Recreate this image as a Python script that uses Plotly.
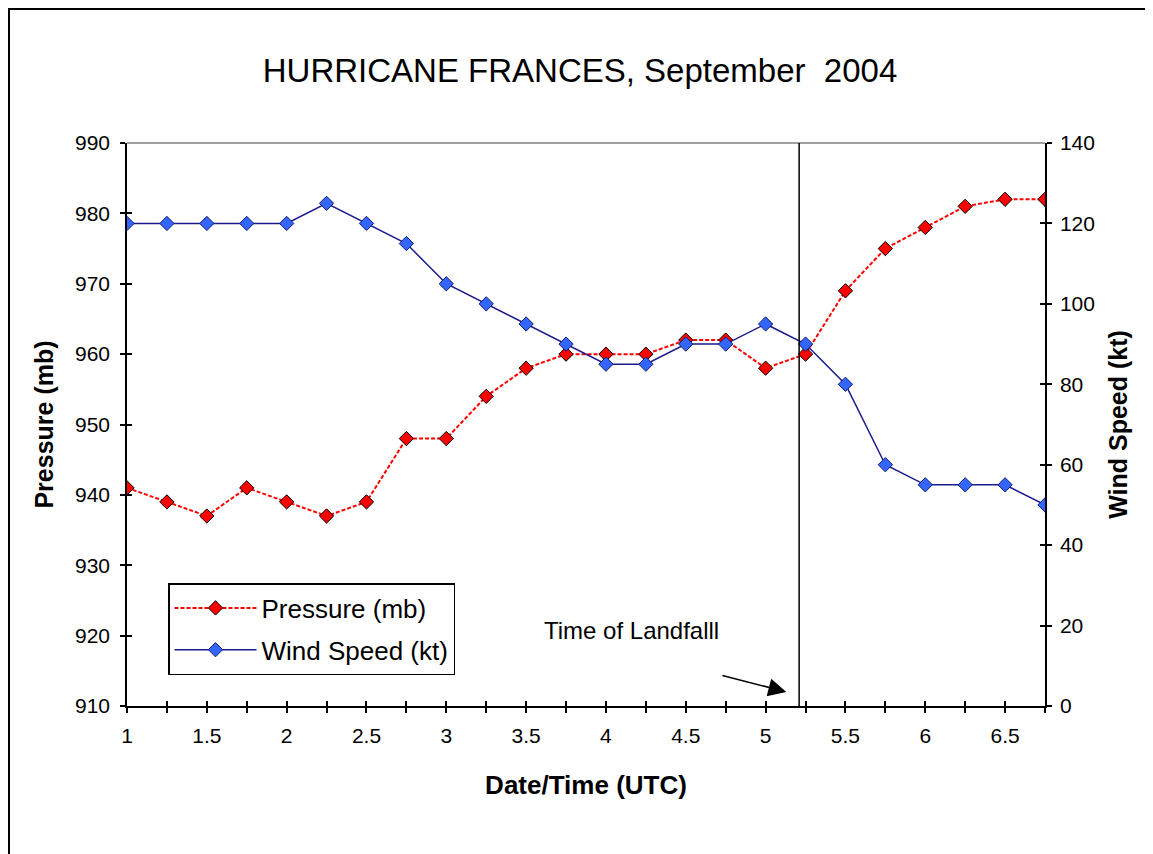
import plotly.graph_objects as go

x_vals = [1, 1.25, 1.5, 1.75, 2, 2.25, 2.5, 2.75, 3, 3.25, 3.5, 3.75, 4, 4.25,
          4.5, 4.75, 5, 5.25, 5.5, 5.75, 6, 6.25, 6.5, 6.75]
pressure = [941, 939, 937, 941, 939, 937, 939, 948, 948, 954, 958, 960, 960, 960,
            962, 962, 958, 960, 969, 975, 978, 981, 982, 982]
wind = [120, 120, 120, 120, 120, 125, 120, 115, 105, 100, 95, 90, 85, 85,
        90, 90, 95, 90, 80, 60, 55, 55, 55, 50]
x_tickvals = [1 + 0.25 * i for i in range(24)]
x_ticktext = [("%g" % v) if abs(v * 2 - round(v * 2)) < 1e-9 else "" for v in x_tickvals]
x_ticktext[-1] = ""
y_left_ticks = [910, 920, 930, 940, 950, 960, 970, 980, 990]
y_right_ticks = [0, 20, 40, 60, 80, 100, 120, 140]
landfall_x = 5.21

FONT = "Liberation Sans, Arial, sans-serif"
W, H = 1145, 846
L, R, T, B = 119, 108, 135, 148
PW, PH = W - L - R, H - T - B

fig = go.Figure()
fig.add_trace(go.Scatter(
    x=x_vals, y=pressure, name="Pressure (mb)", mode="lines+markers",
    line=dict(color="#FF0000", width=2, dash="4px,2px"),
    marker=dict(symbol="diamond", size=11, color="#FF0000",
                line=dict(color="#000000", width=1)),
    legendgroup="p", yaxis="y"))
fig.add_trace(go.Scatter(
    x=x_vals, y=wind, name="Wind Speed (kt)", mode="lines+markers",
    line=dict(color="#1A1A8C", width=1.5),
    marker=dict(symbol="diamond", size=11, color="#3366FF",
                line=dict(color="#1A1A66", width=1)),
    legendgroup="w", yaxis="y2"))

tickfont = dict(family=FONT, size=21, color="#000000")
axis_common = dict(showgrid=False, zeroline=False, showline=True, linecolor="#000000",
                   linewidth=1.5, ticks="outside", ticklen=5, tickwidth=1.5,
                   tickcolor="#000000", tickfont=tickfont)
title_font = dict(family=FONT, size=25, color="#000000")

fig.update_layout(
    width=W, height=H,
    paper_bgcolor="white", plot_bgcolor="white",
    margin=dict(l=L, r=R, t=T, b=B),
    title=dict(text="HURRICANE FRANCES, September  2004", x=572 / W, xref="container",
               xanchor="center", y=1 - 62 / H, yref="container", yanchor="middle",
               font=dict(family=FONT, size=33, color="#000000")),
    xaxis=dict(range=[1, 6.75], tickmode="array", tickvals=x_tickvals, ticktext=x_ticktext,
               ticklabelstandoff=5,
               title=dict(text="<b>Date/Time (UTC)</b>", standoff=30,
                          font=dict(family=FONT, size=26, color="#000000")),
               **axis_common),
    yaxis=dict(range=[910, 990], tickmode="array", tickvals=y_left_ticks,
               ticklabelstandoff=6,
               title=dict(text="<b>Pressure (mb)</b>", standoff=14, font=title_font),
               **axis_common),
    yaxis2=dict(range=[0, 140], tickmode="array", tickvals=y_right_ticks,
                overlaying="y", side="right", anchor="x", ticklabelstandoff=4,
                title=dict(text="<b>Wind Speed (kt)</b>", standoff=16, font=title_font),
                **axis_common),
    xaxis3=dict(range=[1, 6.75], overlaying="x", anchor="y", side="bottom",
                tickmode="array", tickvals=x_tickvals, showticklabels=False,
                showgrid=False, zeroline=False, showline=False, ticks="inside",
                ticklen=5, tickwidth=1.5, tickcolor="#000000"),
    yaxis3=dict(range=[910, 990], overlaying="y", anchor="x", side="left",
                tickmode="array", tickvals=y_left_ticks, showticklabels=False,
                showgrid=False, zeroline=False, showline=False, ticks="inside",
                ticklen=5, tickwidth=1.5, tickcolor="#000000"),
    yaxis4=dict(range=[0, 140], overlaying="y", anchor="x", side="right",
                tickmode="array", tickvals=y_right_ticks, showticklabels=False,
                showgrid=False, zeroline=False, showline=False, ticks="inside",
                ticklen=5, tickwidth=1.5, tickcolor="#000000"),
    legend=dict(x=(160 - L) / PW, y=1 - (575 - T) / PH, xanchor="left", yanchor="top",
                bgcolor="white", bordercolor="#000000", borderwidth=1.5,
                font=dict(family=FONT, size=26, color="#000000"),
                itemwidth=82, traceorder="grouped", tracegroupgap=5),
    showlegend=True,
)

# invisible traces so overlay axes render
fig.add_trace(go.Scatter(x=[1], y=[910], xaxis="x3", yaxis="y3", mode="markers",
                         marker=dict(opacity=0), showlegend=False, hoverinfo="skip"))
fig.add_trace(go.Scatter(x=[1], y=[0], xaxis="x3", yaxis="y4", mode="markers",
                         marker=dict(opacity=0), showlegend=False, hoverinfo="skip"))

# top border of plot area (gray)
fig.add_shape(type="line", xref="paper", yref="paper", x0=0, x1=1, y0=1, y1=1,
              line=dict(color="#808080", width=1.5))
# landfall line
fig.add_shape(type="line", xref="x", yref="paper", x0=landfall_x, x1=landfall_x, y0=0, y1=1,
              line=dict(color="#000000", width=1.5))
# outer border (top and left edges visible)
fig.add_shape(type="rect", xref="paper", yref="paper",
              x0=(1 - L) / PW, x1=(W + 20 - L) / PW,
              y0=-(H + 20 - T - PH) / PH, y1=1 + (T - 1) / PH,
              line=dict(color="#000000", width=2), fillcolor="rgba(0,0,0,0)")

fig.add_annotation(x=4.16, y=920.8, xref="x", yref="y", text="Time of Landfalll",
                   showarrow=False, font=dict(family=FONT, size=24, color="#000000"))
fig.add_annotation(x=5.13, y=912.0, xref="x", yref="y", ax=4.72, ay=914.4,
                   axref="x", ayref="y", text="", showarrow=True, arrowhead=2,
                   arrowsize=2.4, arrowwidth=1.5, arrowcolor="#000000")

fig.write_html("out.html")
